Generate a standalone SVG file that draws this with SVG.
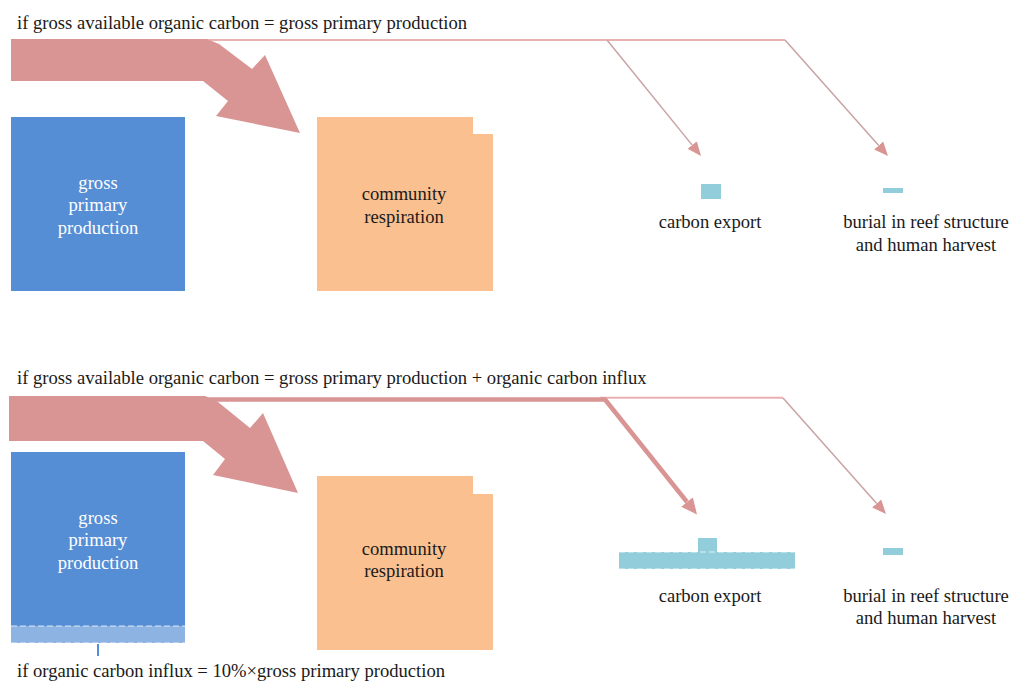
<svg xmlns="http://www.w3.org/2000/svg" width="1012" height="682" viewBox="0 0 1012 682">
<style>
text{font-family:"Liberation Serif","Times New Roman",serif;font-size:18.6px;fill:#1a1a1a}
.w{fill:#ffffff}
.c{text-anchor:middle}
.big{fill:#d99594}
.gpp{fill:#558ed5}
.cr{fill:#fac090}
.cy{fill:#92cddc}
.hl{fill:none;stroke:#e39a9a;stroke-width:1.5}
.dl{fill:none;stroke:#c9a3a3;stroke-width:1.5}
.wave{stroke:#ffffff;stroke-opacity:0.75;stroke-width:1.2;stroke-dasharray:6 3}
</style>
<defs>
<marker id="ah" viewBox="0 0 14 12" refX="0" refY="6" markerWidth="14" markerHeight="12" markerUnits="userSpaceOnUse" orient="auto">
<path d="M0,0 L14,6 L0,12 z" fill="#d99594"/>
</marker>
<marker id="ahb" viewBox="0 0 16 15" refX="0" refY="7.5" markerWidth="16" markerHeight="15" markerUnits="userSpaceOnUse" orient="auto">
<path d="M0,0 L16,7.5 L0,15 z" fill="#d99594"/>
</marker>
</defs>

<text x="17" y="29">if gross available organic carbon = gross primary production</text>
<text x="17" y="384">if gross available organic carbon = gross primary production + organic carbon influx</text>
<text x="17" y="677">if organic carbon influx = 10%×gross primary production</text>

<g id="connectors">
<polygon class="big" points="11,39 207,39 219,44 252,69 265,55 300,133 216,116 228,101 203,81 11,81"/>
<path class="hl" d="M207,40 H785"/>
<path class="dl" d="M607,40 L692.2,145.1" marker-end="url(#ah)"/>
<path class="dl" d="M785,40 L878.7,145.5" marker-end="url(#ah)"/>

<polygon class="big" points="9,396 205,396 218,402 250,428 263,413 298,493 213,475 225,459 203,441 9,441"/>
<path fill="none" stroke="#eab0b0" stroke-width="2" d="M600,397.8 H783"/>
<path class="dl" d="M783,398 L876.7,503.5" marker-end="url(#ah)"/>
<path fill="none" stroke="#d99594" stroke-width="4.5" stroke-linejoin="round" d="M205,399.5 H605 L687,502" marker-end="url(#ahb)"/>
</g>

<g id="gpp-top">
<rect class="gpp" x="11" y="117" width="174" height="174"/>
<text class="w c" x="98" y="189">gross</text>
<text class="w c" x="98" y="211">primary</text>
<text class="w c" x="98" y="234">production</text>
</g>
<g id="cr-top">
<path class="cr" d="M317,117 H473 V134 H493 V291 H317 z"/>
<text class="c" x="404" y="200">community</text>
<text class="c" x="404" y="223">respiration</text>
</g>
<g id="export-top">
<rect class="cy" x="701" y="184" width="20" height="15"/>
<text class="c" x="710" y="228">carbon export</text>
</g>
<g id="burial-top">
<rect class="cy" x="883" y="188" width="20" height="5"/>
<text class="c" x="926" y="228">burial in reef structure</text>
<text class="c" x="926" y="251">and human harvest</text>
</g>

<g id="gpp-bottom">
<rect class="gpp" x="11" y="452" width="174" height="174"/>
<rect x="11" y="626" width="174" height="17" fill="#8db3e2"/>
<path class="wave" d="M11,626 H185 M11,643 H185"/>
<path d="M98,644 V656" stroke="#558ed5" stroke-width="2"/>
<text class="w c" x="98" y="524">gross</text>
<text class="w c" x="98" y="546">primary</text>
<text class="w c" x="98" y="569">production</text>
</g>
<g id="cr-bottom">
<path class="cr" d="M317,476 H473 V494 H493 V650 H317 z"/>
<text class="c" x="404" y="555">community</text>
<text class="c" x="404" y="577">respiration</text>
</g>
<g id="export-bottom">
<rect class="cy" x="698" y="538" width="19" height="15"/>
<rect class="cy" x="619" y="552" width="176" height="17"/>
<path class="wave" d="M619,552 H795 M619,569 H795"/>
<text class="c" x="710" y="602">carbon export</text>
</g>
<g id="burial-bottom">
<rect class="cy" x="883" y="548" width="20" height="7"/>
<text class="c" x="926" y="602">burial in reef structure</text>
<text class="c" x="926" y="624">and human harvest</text>
</g>
</svg>
